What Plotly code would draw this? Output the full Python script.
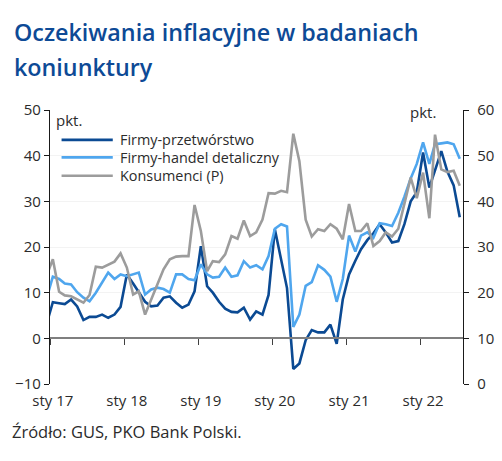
import pandas as pd
import plotly.graph_objects as go

# Monthly observations, Dec 2016 (clipped at axis) .. Jul 2022
months = pd.date_range("2016-12-01", periods=68, freq="MS") + pd.Timedelta(days=14)

firmy_przetworstwo = [
    3.1,
    7.9, 7.7, 7.5, 8.5, 7.0, 4.0, 4.7, 4.7, 5.2, 4.5, 5.2, 6.9,
    14.0, 12.0, 10.0, 8.0, 7.0, 7.2, 8.9, 9.2, 7.8, 6.7, 7.4, 10.3,
    20.2, 11.4, 10.0, 8.0, 6.5, 5.8, 5.7, 6.7, 4.1, 5.9, 5.2, 9.5,
    23.9, 17.0, 11.0, -6.7, -5.5, -0.4, 1.8, 1.3, 1.3, 3.0, -1.2, 8.5,
    14.0, 17.0, 19.5, 21.5, 23.0, 25.0, 23.2, 21.0, 21.3, 25.0, 30.0, 32.0,
    40.7, 33.0, 37.0, 41.0, 36.5, 33.5, 26.5,
]
firmy_handel = [
    8.7,
    13.5, 13.0, 12.0, 11.8, 10.1, 8.9, 8.1, 10.0, 12.3, 14.4, 13.0, 14.0,
    13.6, 14.0, 14.4, 9.6, 10.7, 11.1, 10.8, 10.0, 14.0, 14.0, 13.0, 12.7,
    16.2, 14.0, 13.3, 13.5, 15.5, 13.5, 13.8, 16.9, 15.5, 16.0, 15.1, 18.0,
    24.0, 25.0, 24.5, 2.5, 5.2, 11.5, 12.3, 16.0, 15.0, 13.5, 8.0, 13.0,
    22.5, 19.0, 22.5, 23.2, 22.0, 25.2, 25.0, 24.6, 27.5, 31.0, 35.0, 38.2,
    42.9, 38.2, 42.5, 42.7, 42.9, 42.5, 39.3,
]
konsumenci = [
    23.7,
    27.3, 20.2, 19.4, 19.2, 18.5, 17.8, 19.5, 25.7, 25.5, 26.1, 26.8, 28.6,
    25.5, 19.6, 20.3, 15.2, 18.5, 22.0, 25.1, 27.3, 27.9, 28.0, 28.0, 39.2,
    33.5, 24.7, 26.9, 26.7, 28.4, 32.4, 31.8, 35.8, 32.4, 33.2, 36.0, 41.8,
    41.7, 42.3, 42.0, 54.8, 48.8, 36.0, 32.3, 33.9, 33.5, 35.0, 34.0, 31.7,
    39.4, 33.5, 33.5, 35.2, 30.2, 31.3, 33.2, 32.3, 34.0, 39.5, 45.2, 40.7,
    46.3, 36.3, 54.6, 47.0, 46.4, 46.7, 43.4,
]

series_names = ["Firmy-przetwórstwo", "Firmy-handel detaliczny", "Konsumenci (P)"]
series_colors = ["#0b4a93", "#4fa6ee", "#9c9c9c"]

year_ticks = ["2017-01-01", "2018-01-01", "2019-01-01", "2020-01-01", "2021-01-01", "2022-01-01"]
label_pos = ["2017-01-15", "2018-01-15", "2019-01-15", "2020-01-15", "2021-01-15", "2022-01-15"]
tick_labels = ["sty 17", "sty 18", "sty 19", "sty 20", "sty 21", "sty 22"]

x_range = ["2017-01-01", "2022-07-31"]
left_range = [-10, 50]
right_range = [0, 60]

FONT = "Open Sans"
TXT = "#2b2b2b"

fig = go.Figure()
fig.add_trace(go.Scatter(x=months, y=firmy_przetworstwo, mode="lines", name=series_names[0],
                         line=dict(color=series_colors[0], width=2.6), yaxis="y"))
fig.add_trace(go.Scatter(x=months, y=firmy_handel, mode="lines", name=series_names[1],
                         line=dict(color=series_colors[1], width=2.6), yaxis="y"))
fig.add_trace(go.Scatter(x=months, y=konsumenci, mode="lines", name=series_names[2],
                         line=dict(color=series_colors[2], width=2.6), yaxis="y2"))

zero_pos = (0 - left_range[0]) / (left_range[1] - left_range[0])

fig.update_layout(
    width=502, height=461,
    margin=dict(l=50, r=39, t=110, b=77, autoexpand=False),
    paper_bgcolor="white", plot_bgcolor="white",
    showlegend=False,
    font=dict(family=FONT, size=15, color=TXT),
    xaxis=dict(range=x_range, type="date", showline=False, showgrid=False, zeroline=False,
               tickvals=label_pos, ticktext=tick_labels, ticks="", automargin=False,
               ticklabelstandoff=6,
               tickfont=dict(size=15, color=TXT, family=FONT)),
    xaxis2=dict(range=x_range, type="date", overlaying="x", anchor="free", position=zero_pos,
                showline=True, linecolor="#7f7f7f", linewidth=1.6, showgrid=False, zeroline=False,
                tickvals=year_ticks, ticks="outside", ticklen=6, tickcolor="#404040", tickwidth=1.3,
                showticklabels=False, automargin=False),
    yaxis=dict(range=left_range, dtick=10, showline=True, linecolor="#1a1a1a", linewidth=1.3,
               ticks="outside", ticklen=5, tickcolor="#1a1a1a", showgrid=True, gridcolor="#f3f3f3",
               zeroline=False, automargin=False, tickfont=dict(size=15, color=TXT, family=FONT)),
    yaxis2=dict(range=right_range, dtick=10, overlaying="y", side="right", anchor="x",
                showline=True, linecolor="#1a1a1a", linewidth=1.3, ticks="outside", ticklen=5,
                tickcolor="#1a1a1a", showgrid=False, zeroline=False, automargin=False,
                ticklabelstandoff=5,
                tickfont=dict(size=15, color=TXT, family=FONT)),
)

# the xaxis2 needs a trace reference to be drawn
fig.add_trace(go.Scatter(x=[months[1]], y=[None], xaxis="x2", yaxis="y", showlegend=False,
                         hoverinfo="skip"))

# Custom legend
legend_y = [0.891, 0.827, 0.760]
for name, color, ly in zip(series_names, series_colors, legend_y):
    fig.add_shape(type="line", xref="paper", yref="paper", x0=0.028, x1=0.152, y0=ly, y1=ly,
                  line=dict(color=color, width=2.6))
    fig.add_annotation(text=name, xref="paper", yref="paper", x=0.164, y=ly, xanchor="left",
                       yanchor="middle", showarrow=False, font=dict(size=14.4, color=TXT, family=FONT))

fig.add_annotation(text="pkt.", xref="paper", yref="paper", x=0.010, y=0.962, xanchor="left",
                   yanchor="middle", showarrow=False, font=dict(size=15, color=TXT, family=FONT))
fig.add_annotation(text="pkt.", xref="paper", yref="paper", x=0.940, y=0.993, xanchor="right",
                   yanchor="middle", showarrow=False, font=dict(size=15, color=TXT, family=FONT))

TITLE_COLOR = "#0d4a96"
fig.add_annotation(text="Oczekiwania inflacyjne w badaniach", xref="paper", yref="paper",
                   x=-0.092, y=1.284, xanchor="left", yanchor="middle", showarrow=False,
                   font=dict(size=23.3, color=TITLE_COLOR, family=FONT, weight=600))
fig.add_annotation(text="koniunktury", xref="paper", yref="paper",
                   x=-0.092, y=1.157, xanchor="left", yanchor="middle", showarrow=False,
                   font=dict(size=23.3, color=TITLE_COLOR, family=FONT, weight=600))

fig.add_annotation(text="Źródło: GUS, PKO Bank Polski.", xref="paper", yref="paper",
                   x=-0.098, y=-0.172, xanchor="left", yanchor="middle", showarrow=False,
                   font=dict(size=16.5, color=TXT, family=FONT))

fig.write_html("out.html", config={"displayModeBar": False},
               post_script="document.body.style.margin='0';")
